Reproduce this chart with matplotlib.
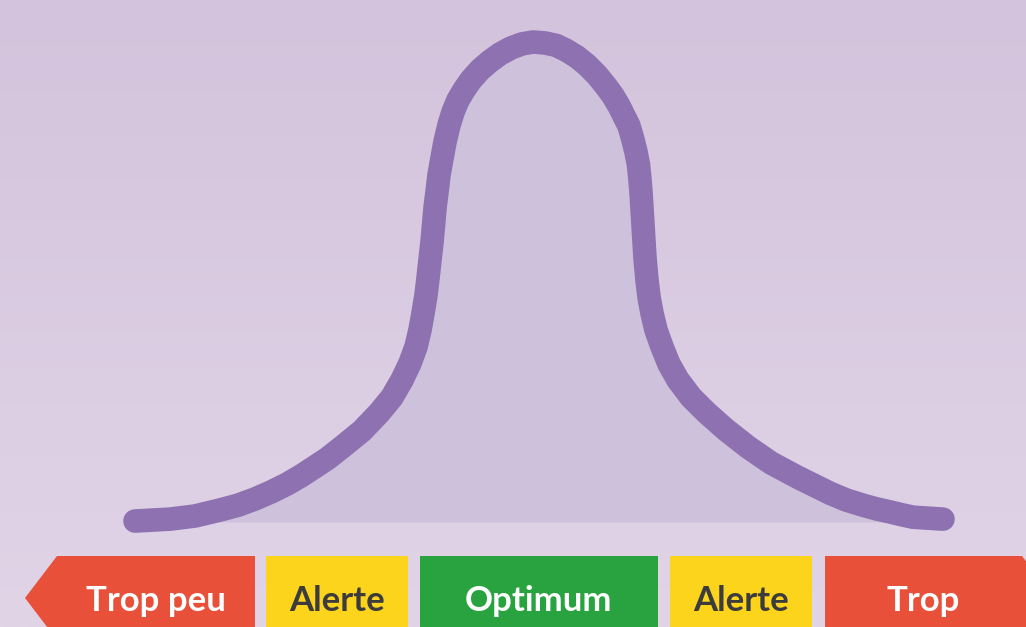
import numpy as np
import matplotlib
matplotlib.use("Agg")
import matplotlib.pyplot as plt
from matplotlib.patches import Polygon

# ---- data ----
curve_x = [135, 170, 195, 220, 238, 255, 271, 287, 301, 315, 328, 342, 362, 379,
           392, 402, 410, 416, 420, 423, 426, 428, 430, 432, 435, 437, 439, 442,
           445, 449, 453, 458, 464, 471, 480, 490, 500, 511, 522, 533, 545, 556,
           566, 577, 587, 597, 606, 613, 619, 624, 629, 633, 636, 638.5, 640, 641,
           643, 645, 647, 649, 652, 656, 662, 669, 678, 691, 707, 726, 748, 771,
           797, 830, 846, 863, 877, 890, 902, 913, 928, 943]
curve_y = [0.002, 0.006, 0.0125, 0.025, 0.035, 0.048, 0.0625, 0.079, 0.096, 0.115,
           0.133, 0.156, 0.190, 0.227, 0.260, 0.296, 0.331, 0.365, 0.400, 0.435,
           0.473, 0.508, 0.546, 0.583, 0.654, 0.6875, 0.723, 0.758, 0.792, 0.827,
           0.854, 0.879, 0.900, 0.921, 0.942, 0.960, 0.975, 0.9875, 0.996, 1.000,
           0.998, 0.993, 0.983, 0.969, 0.952, 0.931, 0.908, 0.888, 0.867, 0.846,
           0.825, 0.796, 0.771, 0.744, 0.7125, 0.6875, 0.619, 0.550, 0.504, 0.469,
           0.435, 0.400, 0.365, 0.329, 0.296, 0.260, 0.227, 0.192, 0.156, 0.123,
           0.094, 0.060, 0.046, 0.035, 0.027, 0.021, 0.015, 0.010, 0.008, 0.006]

zone_labels = ["Trop peu", "Alerte", "Optimum", "Alerte", "Trop"]
zone_start = [57, 266, 420, 670, 825]
zone_end = [255, 408, 658, 812, 1022]

# ---- styles ----
W, H = 1026, 627
zone_colors = ["#e8503a", "#fcd41c", "#28a33f", "#fcd41c", "#e8503a"]
text_colors = ["white", "#3c3c3c", "white", "#3c3c3c", "white"]
line_color = "#8d71b1"
fill_color = "#cec1db"
bg_top = np.array([0xd3, 0xc3, 0xdc]) / 255
bg_bot = np.array([0xe1, 0xd4, 0xe7]) / 255

fig = plt.figure(figsize=(W / 100, H / 100), dpi=100)

# background gradient
bg = fig.add_axes([0, 0, 1, 1])
t = np.linspace(0, 1, 256)[:, None, None]
grad = bg_top * (1 - t) + bg_bot * t
bg.imshow(grad, extent=[0, 1, 0, 1], aspect="auto", origin="upper")
bg.set_axis_off()

# curve axes: value 0 at pixel row 522, value 1 at pixel row 42 (480 px per unit)
ax = fig.add_axes([0, 0, 1, 1])
ax.patch.set_alpha(0)
ax.set_xlim(0, W)
ax.set_ylim(-105 / 480, 1 + 42 / 480)
ax.set_axis_off()
ax.fill_between(curve_x, curve_y, 0, color=fill_color, lw=0, zorder=1)
ax.plot(curve_x, curve_y, color=line_color, lw=17, solid_capstyle="round",
        solid_joinstyle="round", zorder=2)

# zone strip: from pixel row 556 to 640 (extends below the figure)
sx = fig.add_axes([0, -13 / H, 1, 84 / H])
sx.patch.set_alpha(0)
sx.set_xlim(0, W)
sx.set_ylim(0, 1)
sx.set_axis_off()
arrow = 32
n = len(zone_labels)
for i, (lab, x0, x1) in enumerate(zip(zone_labels, zone_start, zone_end)):
    if i == 0:
        pts = [(x0 - arrow, 0.5), (x0, 1), (x1, 1), (x1, 0), (x0, 0)]
    elif i == n - 1:
        pts = [(x0, 0), (x0, 1), (x1, 1), (x1 + arrow, 0.5), (x1, 0)]
    else:
        pts = [(x0, 0), (x0, 1), (x1, 1), (x1, 0)]
    sx.add_patch(Polygon(pts, closed=True, facecolor=zone_colors[i],
                         edgecolor="none", clip_on=False))
    sx.text((x0 + x1) / 2, (640 - 611) / 84, lab, ha="center", va="baseline",
            fontsize=25, fontweight="bold", family=["Lato", "DejaVu Sans"],
            color=text_colors[i])

fig.savefig("out.png", dpi=100)
